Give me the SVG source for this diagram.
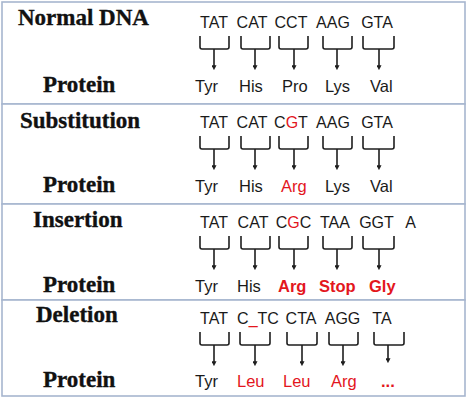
<svg xmlns="http://www.w3.org/2000/svg" width="474" height="406" viewBox="0 0 474 406">
<defs>
<style>
.panel{fill:#ffffff;stroke:#a7b6cf;stroke-width:1.6}
.title{font-family:"Liberation Serif","Times New Roman",serif;font-weight:bold;font-size:23px;fill:#111;stroke:#111;stroke-width:0.35}
.cod{font-family:"Liberation Sans",Arial,sans-serif;font-size:16px;fill:#1a1a1a;text-anchor:middle}
.aa{font-family:"Liberation Sans",Arial,sans-serif;font-size:16.5px;fill:#1a1a1a}
.red{fill:#e3161d}
.b{font-weight:bold}
.br{fill:none;stroke:#1e1e1e;stroke-width:1.6}
.st{fill:none;stroke:#1e1e1e;stroke-width:1.6;marker-end:url(#ah)}
</style>
<marker id="ah" viewBox="0 0 6 6" refX="1" refY="3" markerWidth="5" markerHeight="5" markerUnits="userSpaceOnUse" orient="auto">
<path d="M0,0 L6,3 L0,6 z" fill="#1e1e1e"/>
</marker>
</defs>
<rect x="0" y="0" width="474" height="406" fill="#ffffff"/>

<g id="panel-normal">
<rect class="panel" x="2" y="2" width="463" height="102"/>
<text class="title" x="18" y="25">Normal DNA</text>
<text class="cod" x="214" y="28">TAT</text>
<text class="cod" x="252" y="28">CAT</text>
<text class="cod" x="291" y="28">CCT</text>
<text class="cod" x="333" y="28">AAG</text>
<text class="cod" x="377" y="28">GTA</text>
<text class="title" x="43" y="92">Protein</text>
<text class="aa" x="195" y="92">Tyr</text>
<text class="aa" x="239" y="92">His</text>
<text class="aa" x="282" y="92">Pro</text>
<text class="aa" x="325" y="92">Lys</text>
<text class="aa" x="370" y="92">Val</text>
</g>

<g id="panel-substitution">
<rect class="panel" x="2" y="104" width="463" height="100"/>
<text class="title" x="20" y="128">Substitution</text>
<text class="cod" x="214" y="128">TAT</text>
<text class="cod" x="252" y="128">CAT</text>
<text class="cod" x="291" y="128">C<tspan class="red">G</tspan>T</text>
<text class="cod" x="333" y="128">AAG</text>
<text class="cod" x="377" y="128">GTA</text>
<text class="title" x="43" y="192">Protein</text>
<text class="aa" x="195" y="192">Tyr</text>
<text class="aa" x="239" y="192">His</text>
<text class="aa red" x="281" y="192">Arg</text>
<text class="aa" x="325" y="192">Lys</text>
<text class="aa" x="370" y="192">Val</text>
</g>

<g id="panel-insertion">
<rect class="panel" x="2" y="204" width="463" height="96"/>
<text class="title" x="33" y="227">Insertion</text>
<text class="cod" x="214" y="228">TAT</text>
<text class="cod" x="253" y="228">CAT</text>
<text class="cod" x="293.5" y="228">C<tspan class="red">G</tspan>C</text>
<text class="cod" x="335" y="228">TAA</text>
<text class="cod" x="376.5" y="228">GGT</text>
<text class="cod" x="410.5" y="228">A</text>
<text class="title" x="43" y="292">Protein</text>
<text class="aa" x="195" y="292">Tyr</text>
<text class="aa" x="237" y="292">His</text>
<text class="aa red b" x="278" y="292">Arg</text>
<text class="aa red b" x="319" y="292">Stop</text>
<text class="aa red b" x="369" y="292">Gly</text>
</g>

<g id="panel-deletion">
<rect class="panel" x="2" y="300" width="463" height="96"/>
<text class="title" x="36" y="322">Deletion</text>
<text class="cod" x="214" y="324">TAT</text>
<text class="cod" x="258" y="324">C<tspan class="red">_</tspan>TC</text>
<text class="cod" x="301" y="324">CTA</text>
<text class="cod" x="342.5" y="324">AGG</text>
<text class="cod" x="382" y="324">TA</text>
<text class="title" x="43" y="387">Protein</text>
<text class="aa" x="195" y="387">Tyr</text>
<text class="aa red" x="237" y="387">Leu</text>
<text class="aa red" x="283" y="387">Leu</text>
<text class="aa red" x="331" y="387">Arg</text>
<text class="aa red b" x="381" y="387">...</text>
</g>

<g id="connectors">
<path class="br" d="M200,36 V47 Q200,49 202,49 H227 Q229,49 229,47 V36"/>
<path class="br" d="M241,36 V47 Q241,49 243,49 H268 Q270,49 270,47 V36"/>
<path class="br" d="M279,36 V47 Q279,49 281,49 H306 Q308,49 308,47 V36"/>
<path class="br" d="M323,36 V47 Q323,49 325,49 H350 Q352,49 352,47 V36"/>
<path class="br" d="M363,36 V47 Q363,49 365,49 H392 Q394,49 394,47 V36"/>
<path class="st" d="M214,49 V66"/>
<path class="st" d="M255,49 V66"/>
<path class="st" d="M294,49 V66"/>
<path class="st" d="M337,49 V66"/>
<path class="st" d="M379,49 V66"/>
<path class="br" d="M200,136 V147 Q200,149 202,149 H227 Q229,149 229,147 V136"/>
<path class="br" d="M241,136 V147 Q241,149 243,149 H268 Q270,149 270,147 V136"/>
<path class="br" d="M279,136 V147 Q279,149 281,149 H306 Q308,149 308,147 V136"/>
<path class="br" d="M323,136 V147 Q323,149 325,149 H350 Q352,149 352,147 V136"/>
<path class="br" d="M363,136 V147 Q363,149 365,149 H392 Q394,149 394,147 V136"/>
<path class="st" d="M214,149 V166"/>
<path class="st" d="M255,149 V166"/>
<path class="st" d="M294,149 V166"/>
<path class="st" d="M337,149 V166"/>
<path class="st" d="M379,149 V166"/>
<path class="br" d="M200,236 V247 Q200,249 202,249 H227 Q229,249 229,247 V236"/>
<path class="br" d="M241,236 V247 Q241,249 243,249 H268 Q270,249 270,247 V236"/>
<path class="br" d="M279,236 V247 Q279,249 281,249 H306 Q308,249 308,247 V236"/>
<path class="br" d="M323,236 V247 Q323,249 325,249 H350 Q352,249 352,247 V236"/>
<path class="br" d="M363,236 V247 Q363,249 365,249 H392 Q394,249 394,247 V236"/>
<path class="st" d="M214,249 V266"/>
<path class="st" d="M255,249 V266"/>
<path class="st" d="M294,249 V266"/>
<path class="st" d="M337,249 V266"/>
<path class="st" d="M379,249 V266"/>
<path class="br" d="M200,332 V343 Q200,345 202,345 H227 Q229,345 229,343 V332"/>
<path class="br" d="M240,332 V343 Q240,345 242,345 H268 Q270,345 270,343 V332"/>
<path class="br" d="M287,332 V343 Q287,345 289,345 H315 Q317,345 317,343 V332"/>
<path class="br" d="M329,332 V343 Q329,345 331,345 H356 Q358,345 358,343 V332"/>
<path class="br" d="M374,332 V343 Q374,345 376,345 H402 Q404,345 404,343 V332"/>
<path class="st" d="M214,345 V362"/>
<path class="st" d="M255,345 V362"/>
<path class="st" d="M302,345 V362"/>
<path class="st" d="M343,345 V362"/>
<path class="st" d="M388,345 V359"/>
</g>
</svg>
